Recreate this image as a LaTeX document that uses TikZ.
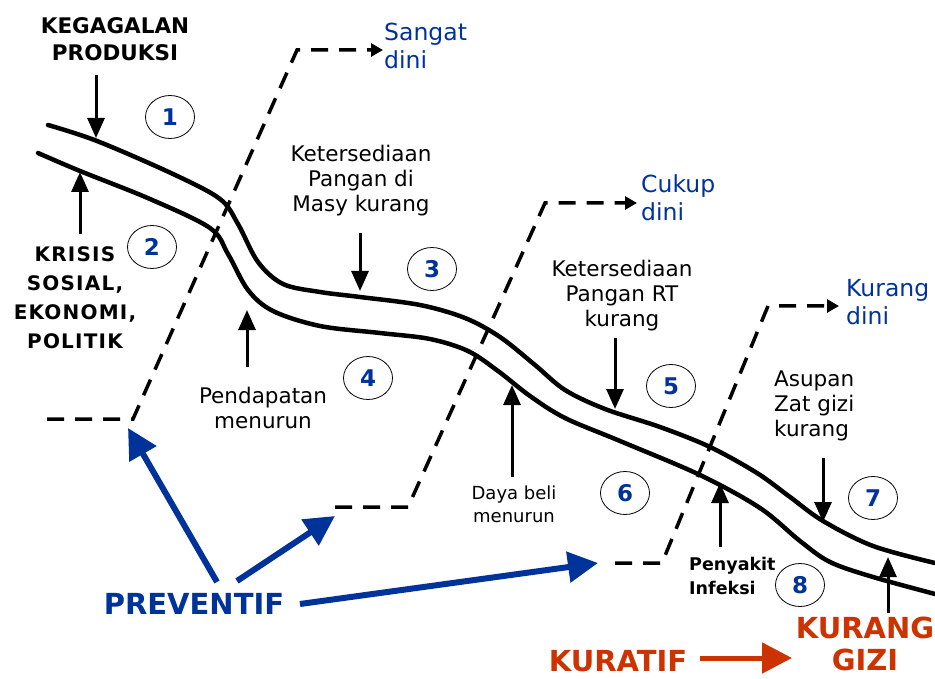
\documentclass[tikz,border=0pt]{standalone}
\usepackage{fontspec}
\setmainfont{DejaVu Sans}
\usetikzlibrary{arrows.meta,shapes.geometric}
\definecolor{pblue}{RGB}{0,51,153}
\definecolor{korange}{RGB}{204,51,0}
\begin{document}
\begin{tikzpicture}[x=1pt,y=-1pt,
 road/.style={line width=4.5pt, line cap=round},
 dashline/.style={line width=3.5pt, dash pattern=on 17pt off 11pt, -{Triangle[length=12pt,width=13pt]}},
 blk/.style={line width=3pt, -{Triangle[length=20pt,width=17pt]}},
 bluearrow/.style={draw=pblue, line width=6pt, -{Triangle[length=30pt,width=30pt]}},
 num/.style={ellipse, draw, line width=0.8pt, minimum width=49pt, minimum height=43pt, inner sep=0pt, text=pblue, font=\fontsize{23}{23}\selectfont\bfseries},
 lbl/.style={align=center, inner sep=0pt, font=\fontsize{21.5}{25}\selectfont},
 bigcap/.style={align=center, inner sep=0pt, font=\fontsize{21.5}{27}\selectfont\bfseries},
 dini/.style={anchor=west, align=left, inner sep=0pt, text=pblue, font=\fontsize{23.5}{28}\selectfont},
]
\useasboundingbox (0,0) rectangle (935,679);

% roads
\draw[road] plot[smooth, tension=0.55] coordinates {(48,125) (97,141) (173,174) (220,199) (238,224) (258,262) (283,284) (320,292) (360,297) (420,305) (465,318) (500,337) (535,365) (565,390) (605,409) (660,427) (710,447) (757,473) (790,497) (823,521) (873,546) (935,563)};
\draw[road] plot[smooth, tension=0.55] coordinates {(38,153) (80,171) (150,199) (210,228) (228,254) (248,290) (273,311) (320,326) (380,333) (430,339) (468,351) (498,371) (530,396) (565,418) (620,441) (700,475) (760,508) (800,541) (830,562) (873,577) (935,594)};

% dashed paths
\coordinate (d1a) at (47,419); \coordinate (d1b) at (133,419); \coordinate (d1c) at (297,50); \coordinate (d1d) at (383,50);
\coordinate (d2a) at (335,507); \coordinate (d2b) at (408,507); \coordinate (d2c) at (545,203); \coordinate (d2d) at (637,203);
\coordinate (d3a) at (615,563); \coordinate (d3b) at (662,563); \coordinate (d3c) at (768,306); \coordinate (d3d) at (839,306);
\draw[dashline] (d1a) -- (d1b) -- (d1c) -- (d1d);
\draw[dashline] (d2a) -- (d2b) -- (d2c) -- (d2d);
\draw[dashline] (d3a) -- (d3b) -- (d3c) -- (d3d);

% labels
\node[bigcap] (keg) at (115,39) {KEGAGALAN\\PRODUKSI};
\node[align=center, inner sep=0pt, font=\fontsize{20}{29}\selectfont\bfseries\addfontfeatures{LetterSpace=6}] (kri) at (75,298) {KRISIS\\SOSIAL,\\EKONOMI,\\POLITIK};
\node[lbl] (ket1) at (361,181) {Ketersediaan\\Pangan di\\Masy kurang};
\node[lbl] (ket2) at (622,296) {Ketersediaan\\Pangan RT\\kurang};
\node[lbl] (pend) at (263,408) {Pendapatan\\menurun};
\node[align=center, inner sep=0pt, font=\fontsize{18}{23}\selectfont] (daya) at (514,504) {Daya beli\\menurun};
\node[lbl, anchor=west, align=left] (asu) at (774,406) {Asupan\\Zat gizi\\kurang};
\node[anchor=west, align=left, inner sep=0pt, font=\fontsize{17.5}{24}\selectfont\bfseries] (peny) at (689,576) {Penyakit\\Infeksi};
\node[dini] (sang) at (384,46) {Sangat\\dini};
\node[dini] (cuk) at (641,198) {Cukup\\dini};
\node[dini] (kurd) at (846,302) {Kurang\\dini};
\node[inner sep=0pt, text=pblue, font=\fontsize{29}{29}\selectfont\bfseries] (prev) at (194,604) {PREVENTIF};
\node[inner sep=0pt, text=korange, font=\fontsize{29}{29}\selectfont\bfseries] (kur) at (618,661) {KURATIF};
\node[align=center, inner sep=0pt, text=korange, font=\fontsize{29}{32}\selectfont\bfseries] (kg) at (865,644) {KURANG\\GIZI};

% numbers
\node[num] (n1) at (170,117) {1};
\node[num] (n2) at (152,247) {2};
\node[num] (n3) at (432,269) {3};
\node[num] (n4) at (368,378) {4};
\node[num] (n5) at (671,386) {5};
\node[num] (n6) at (625,493) {6};
\node[num] (n7) at (873,498) {7};
\node[num] (n8) at (800,585) {8};

% black arrows
\coordinate (a1s) at (96,75);   \coordinate (a1e) at (96,138);
\coordinate (a2s) at (80,234);  \coordinate (a2e) at (80,172);
\coordinate (a3s) at (247,367); \coordinate (a3e) at (247,310);
\coordinate (a4s) at (360,233); \coordinate (a4e) at (360,291);
\coordinate (a5s) at (615,338); \coordinate (a5e) at (615,409);
\coordinate (a6s) at (512,477); \coordinate (a6e) at (512,385);
\coordinate (a7s) at (823,458); \coordinate (a7e) at (823,522);
\coordinate (a8s) at (720,547); \coordinate (a8e) at (720,483);
\coordinate (a9s) at (888,613); \coordinate (a9e) at (888,557);
\foreach \i in {1,...,9} {\draw[blk] (a\i s) -- (a\i e);}

% blue arrows
\coordinate (p1s) at (217,582); \coordinate (p1e) at (128,428);
\coordinate (p2s) at (237,581); \coordinate (p2e) at (335,516);
\coordinate (p3s) at (300,604); \coordinate (p3e) at (598,563);
\draw[bluearrow] (p1s) -- (p1e);
\draw[bluearrow] (p2s) -- (p2e);
\draw[bluearrow] (p3s) -- (p3e);

% kuratif arrow
\coordinate (k1) at (700,658); \coordinate (k2) at (792,658);
\draw[draw=korange, line width=5pt, -{Triangle[length=30pt,width=30pt]}] (k1) -- (k2);
\end{tikzpicture}
\end{document}
